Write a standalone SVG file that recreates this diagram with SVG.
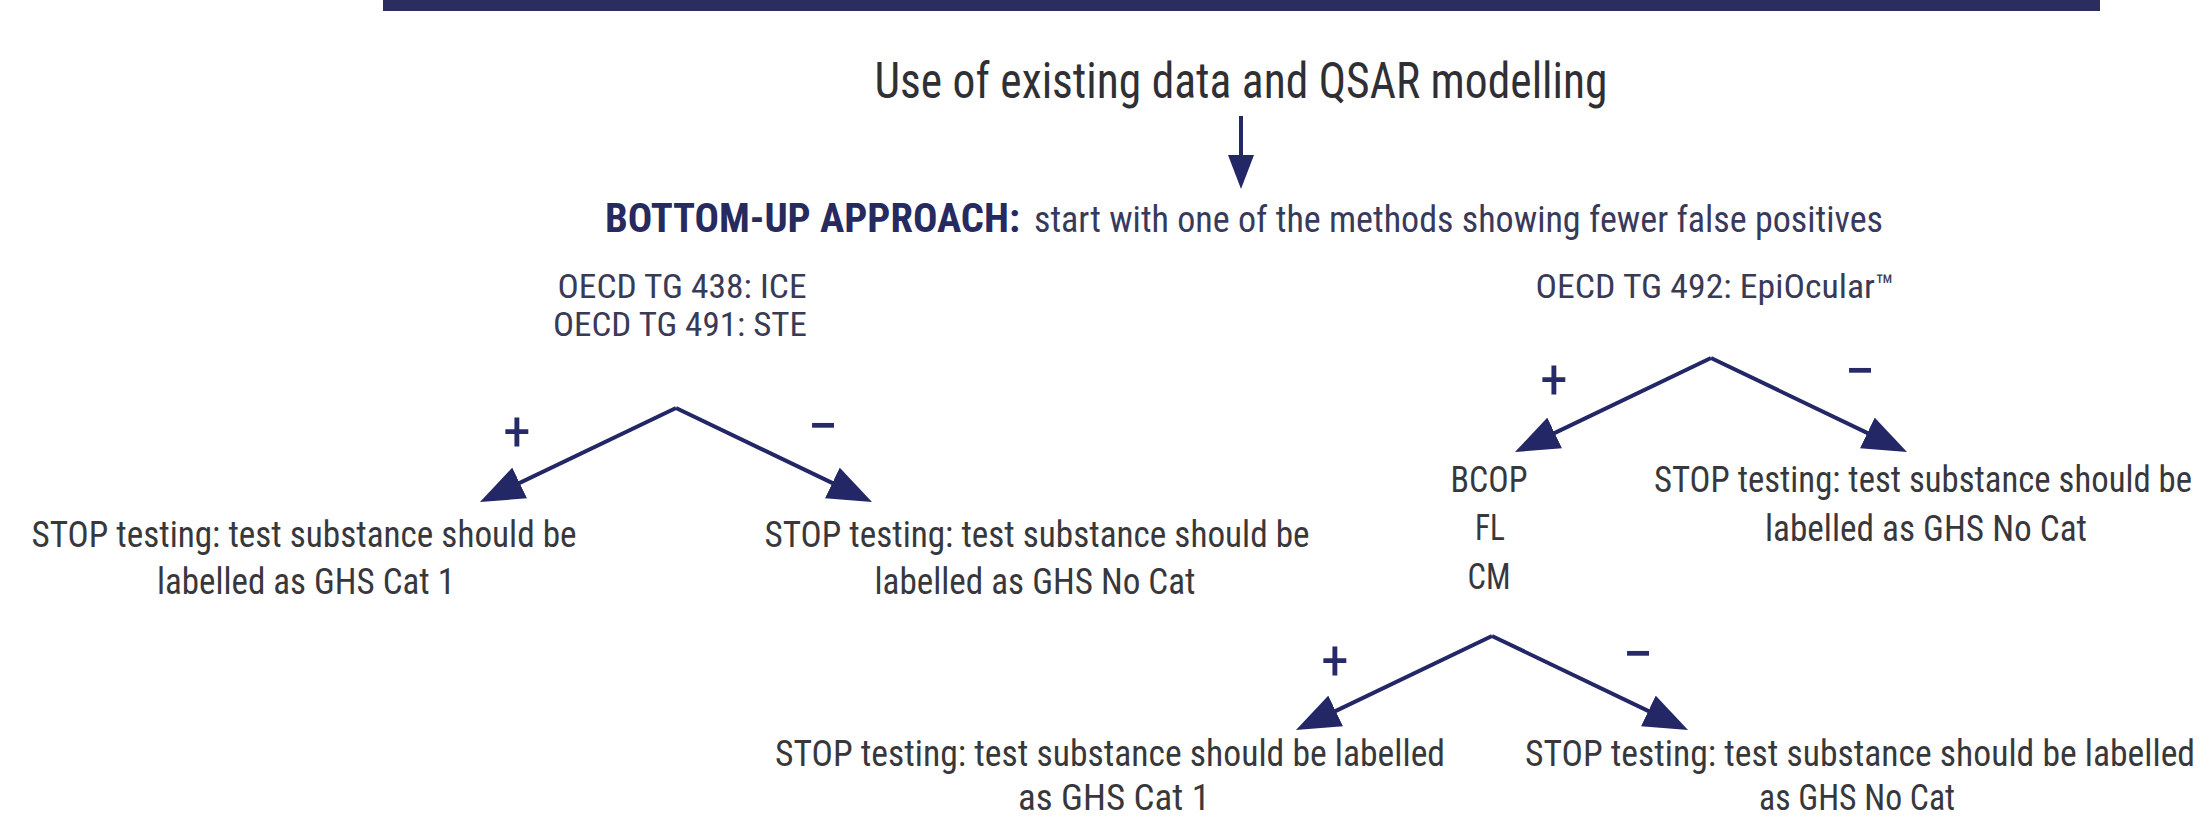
<svg xmlns="http://www.w3.org/2000/svg" width="2210" height="820" viewBox="0 0 2210 820">
  <style>
    text { font-family: "Liberation Sans Narrow", "Roboto Condensed", "DejaVu Sans Condensed", "Liberation Sans", Arial, sans-serif; font-stretch: condensed; }
    .title { font-size: 50px; fill: #303034; }
    .head { font-size: 40px; font-weight: bold; fill: #262a5e; }
    .sub { font-size: 37px; fill: #383a5c; }
    .test { font-size: 33px; fill: #383a56; }
    .leaf { font-size: 36px; fill: #38383c; }
    .sign { font-size: 56px; fill: #262a66; }
    .minus { font-size: 64px; fill: #262a66; }
    .c { text-anchor: middle; }
    .e { text-anchor: end; }
    .link { stroke: #232766; stroke-width: 4; fill: none; }
  </style>
  <defs>
    <marker id="head" viewBox="0 0 44 34" refX="24" refY="17" markerWidth="44" markerHeight="34" markerUnits="userSpaceOnUse" orient="auto">
      <path d="M0,0 L44,17 L0,34 Z" fill="#232766"/>
    </marker>
    <marker id="down" viewBox="0 0 34 26" refX="14" refY="13" markerWidth="34" markerHeight="26" markerUnits="userSpaceOnUse" orient="auto">
      <path d="M0,0 L34,13 L0,26 Z" fill="#232766"/>
    </marker>
  </defs>

  <rect x="383" y="0" width="1717" height="11" fill="#2b2d5e"/>

  <g id="existing-data">
    <text class="title c" x="1241" y="98" textLength="733" lengthAdjust="spacingAndGlyphs">Use of existing data and QSAR modelling</text>
  </g>

  <g id="bottom-up">
    <text class="head" x="605" y="232" textLength="415" lengthAdjust="spacingAndGlyphs">BOTTOM-UP APPROACH:</text>
    <text class="sub" x="1034" y="232" textLength="849" lengthAdjust="spacingAndGlyphs">start with one of the methods showing fewer false positives</text>
  </g>

  <g id="ice-ste">
    <text class="test c" x="682" y="298" textLength="249" lengthAdjust="spacingAndGlyphs">OECD TG 438: ICE</text>
    <text class="test c" x="680" y="336" textLength="254" lengthAdjust="spacingAndGlyphs">OECD TG 491: STE</text>
  </g>

  <g id="ice-ste-positive">
    <text class="leaf c" x="304" y="547" textLength="545" lengthAdjust="spacingAndGlyphs">STOP testing: test substance should be</text>
    <text class="leaf c" x="306" y="594" textLength="298" lengthAdjust="spacingAndGlyphs">labelled as GHS Cat 1</text>
  </g>

  <g id="ice-ste-negative">
    <text class="leaf c" x="1037" y="547" textLength="545" lengthAdjust="spacingAndGlyphs">STOP testing: test substance should be</text>
    <text class="leaf c" x="1035" y="594" textLength="321" lengthAdjust="spacingAndGlyphs">labelled as GHS No Cat</text>
  </g>

  <g id="epiocular">
    <text class="test c" x="1715" y="298" textLength="359" lengthAdjust="spacingAndGlyphs">OECD TG 492: EpiOcular™</text>
  </g>

  <g id="bcop-fl-cm">
    <text class="leaf c" x="1489" y="492" textLength="77" lengthAdjust="spacingAndGlyphs">BCOP</text>
    <text class="leaf c" x="1490" y="540" textLength="30" lengthAdjust="spacingAndGlyphs">FL</text>
    <text class="leaf c" x="1489" y="589" textLength="43" lengthAdjust="spacingAndGlyphs">CM</text>
  </g>

  <g id="epiocular-negative">
    <text class="leaf e" x="2192" y="492" textLength="538" lengthAdjust="spacingAndGlyphs">STOP testing: test substance should be</text>
    <text class="leaf c" x="1926" y="541" textLength="322" lengthAdjust="spacingAndGlyphs">labelled as GHS No Cat</text>
  </g>

  <g id="bcop-positive">
    <text class="leaf c" x="1110" y="766" textLength="670" lengthAdjust="spacingAndGlyphs">STOP testing: test substance should be labelled</text>
    <text class="leaf c" x="1114" y="810" textLength="192" lengthAdjust="spacingAndGlyphs">as GHS Cat 1</text>
  </g>

  <g id="bcop-negative">
    <text class="leaf c" x="1860" y="766" textLength="670" lengthAdjust="spacingAndGlyphs">STOP testing: test substance should be labelled</text>
    <text class="leaf c" x="1857" y="810" textLength="196" lengthAdjust="spacingAndGlyphs">as GHS No Cat</text>
  </g>

  <g id="connectors">
    <line class="link" x1="1241" y1="116" x2="1241" y2="169" marker-end="url(#down)"/>

    <path class="link" d="M676,408 L498,493.35" marker-end="url(#head)"/>
    <path class="link" d="M676,408 L854,493.35" marker-end="url(#head)"/>
    <text class="sign c" x="517" y="451">+</text>
    <text class="minus c" x="823" y="448">−</text>

    <path class="link" d="M1711,358 L1533,443.35" marker-end="url(#head)"/>
    <path class="link" d="M1711,358 L1889,443.35" marker-end="url(#head)"/>
    <text class="sign c" x="1554" y="399">+</text>
    <text class="minus c" x="1860" y="393">−</text>

    <path class="link" d="M1492,636 L1314,721.35" marker-end="url(#head)"/>
    <path class="link" d="M1492,636 L1670,721.35" marker-end="url(#head)"/>
    <text class="sign c" x="1335" y="680">+</text>
    <text class="minus c" x="1638" y="676">−</text>
  </g>
</svg>
